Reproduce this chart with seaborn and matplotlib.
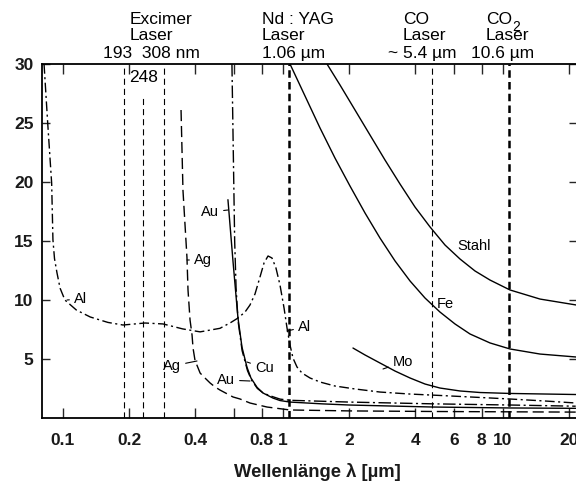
import numpy as np
import pandas as pd
import matplotlib
matplotlib.use("Agg")
import matplotlib.pyplot as plt
from matplotlib.ticker import FixedLocator, NullLocator, FixedFormatter
import seaborn as sns

# ---------------- data ----------------
al_lam = [0.082, 0.0852, 0.0888, 0.0900, 0.0915, 0.0939, 0.097, 0.102, 0.115, 0.133, 0.16, 0.1875,
          0.236, 0.285, 0.35, 0.42, 0.517, 0.58, 0.624, 0.672, 0.708, 0.746, 0.786, 0.820, 0.855,
          0.891, 0.929, 0.969, 1.011, 1.043, 1.076, 1.110, 1.158, 1.220, 1.327, 1.473, 1.723,
          2.125, 2.760, 3.779, 5.172, 7.862, 10.76, 15.53, 21.47]
al_val = [30.0, 25.0, 19.9, 15.1, 13.5, 12.3, 11.0, 10.0, 9.15, 8.56, 8.1, 7.88,
          8.05, 7.97, 7.55, 7.3, 7.6, 8.1, 8.47, 8.98, 9.58, 10.51, 11.95, 13.14, 13.73,
          13.56, 12.71, 11.27, 9.32, 7.63, 6.19, 5.08, 4.32, 3.81, 3.39, 3.05, 2.71,
          2.46, 2.20, 2.03, 1.91, 1.74, 1.61, 1.44, 1.27]

ag_lam = [0.344, 0.351, 0.366, 0.370, 0.378, 0.386, 0.390, 0.398, 0.406, 0.42, 0.4375, 0.466,
          0.491, 0.517, 0.593, 0.638, 0.708, 0.846, 1.076, 2.02, 5.0, 21.4]
ag_val = [26.1, 19.3, 13.6, 10.85, 8.3, 7.03, 5.93, 4.9, 4.49, 3.81, 3.47, 2.97,
          2.63, 2.37, 1.78, 1.61, 1.27, 0.93, 0.68, 0.6, 0.55, 0.5]

au_lam = [0.562, 0.593, 0.624, 0.651, 0.686, 0.715, 0.762, 0.811, 0.90, 0.969, 1.076, 1.5,
          2.0, 4.8, 10.8, 21.4]
au_val = [18.5, 13.2, 8.5, 6.0, 4.3, 3.39, 2.6, 2.12, 1.69, 1.48, 1.35, 1.2,
          1.1, 0.93, 0.85, 0.82]

cu_lam = [0.586, 0.595, 0.603, 0.612, 0.625, 0.652, 0.69, 0.72, 0.765, 0.815, 0.9, 0.97,
          1.076, 1.5, 2.0, 4.8, 10.8, 21.4]
cu_val = [30.0, 22.0, 15.0, 11.0, 8.2, 5.7, 4.0, 3.2, 2.5, 2.1, 1.8, 1.6,
          1.5, 1.42, 1.35, 1.2, 1.1, 1.0]

mo_lam = [2.08, 2.36, 2.76, 3.23, 3.78, 4.42, 5.17, 6.38, 7.86, 10.76, 21.47]
mo_val = [5.93, 5.34, 4.66, 3.98, 3.39, 2.88, 2.54, 2.29, 2.16, 2.08, 1.99]

fe_lam = [1.076, 1.259, 1.473, 1.723, 2.016, 2.36, 2.76, 3.23, 3.78, 4.42, 5.17, 6.05,
          7.08, 8.73, 10.76, 14.73, 21.47]
fe_val = [30.0, 27.29, 24.58, 22.03, 19.66, 17.37, 15.25, 13.31, 11.61, 10.17, 8.98, 7.97,
          7.12, 6.36, 5.85, 5.42, 5.17]

st_lam = [1.585, 1.816, 2.125, 2.486, 2.909, 3.403, 3.981, 4.66, 5.45, 6.38, 7.46, 8.73,
          10.76, 14.73, 21.47]
st_val = [30.0, 28.22, 26.10, 23.98, 21.86, 19.83, 17.88, 16.19, 14.66, 13.47, 12.46, 11.69,
          10.85, 10.08, 9.58]

laser_lam = [0.19, 0.232, 0.287, 1.06, 4.75, 10.7]
laser_thick = [False, False, False, True, False, True]
laser_top = [30, 27.3, 30, 30, 30, 30]

xtick_vals = [0.1, 0.2, 0.4, 0.6, 0.8, 1, 2, 4, 6, 8, 10, 20]
xtick_labels = ["0.1", "0.2", "0.4", "", "0.8", "1", "2", "4", "6", "8", "10", "20"]
ytick_vals = [5, 10, 15, 20, 25, 30]

# ---------------- style ----------------
sns.set_theme(style="ticks")
plt.rcParams['font.family'] = ['Liberation Sans', 'DejaVu Sans']

W, H = 576, 490
fig = plt.figure(figsize=(W / 100, H / 100), dpi=100)
fig.patch.set_facecolor("white")

PX1, DEC, PY0, PYU = 283.0, 220.0, 418.0, 11.8   # pixel mapping used for label placement
L, R, T, B = 42, 577, 64, 418
ax = fig.add_axes([L / W, 1 - B / H, (R - L) / W, (B - T) / H])
ax.set_facecolor("white")
ax.set_xscale("log")
ax.set_xlim(10 ** ((L - PX1) / DEC), 10 ** ((R - PX1) / DEC))
ax.set_ylim(0, 30)


def d(px, py):
    return 10 ** ((px - PX1) / DEC), (PY0 - py) / PYU


K = "black"
dashdot = (0, (7, 2.5, 1.5, 2.5))
longdash = (0, (8, 3.5))


def curve(xs, ys, ls="-", lw=1.0):
    df = pd.DataFrame({"lam": xs, "val": ys})
    sns.lineplot(data=df, x="lam", y="val", ax=ax, color=K, linewidth=lw,
                 linestyle=ls, estimator=None, sort=False, legend=False)


# laser lines
for lam, thick, top in zip(laser_lam, laser_thick, laser_top):
    if thick:
        ax.axvline(lam, ymin=0, ymax=top / 30, color=K, lw=1.8, linestyle=(0, (3, 1.7)))
    else:
        ax.axvline(lam, ymin=0, ymax=top / 30, color=K, lw=0.8, linestyle=(0, (5.5, 3.6)))

curve(al_lam, al_val, dashdot)
curve(ag_lam, ag_val, longdash)
curve(au_lam, au_val, "-")
curve(cu_lam, cu_val, (0, (9, 2.5, 1.5, 2.5)))
curve(mo_lam, mo_val, "-")
curve(fe_lam, fe_val, "-")
curve(st_lam, st_val, "-")

ax.set_xlabel("")
ax.set_ylabel("")

# ticks
ax.xaxis.set_major_locator(FixedLocator(xtick_vals))
ax.xaxis.set_major_formatter(FixedFormatter(xtick_labels))
ax.xaxis.set_minor_locator(NullLocator())
ax.yaxis.set_major_locator(FixedLocator(ytick_vals))
ax.yaxis.set_minor_locator(NullLocator())
ax.tick_params(axis="x", which="major", direction="in", length=7, width=1.0,
               top=True, bottom=True, labelsize=12.5, pad=11)
ax.tick_params(axis="y", which="major", direction="in", length=6, width=1.0,
               left=True, right=True, labelsize=12.5, pad=6)
for lab in ax.get_xticklabels() + ax.get_yticklabels():
    lab.set_fontweight("bold")
    lab.set_color("#1a1a1a")
for s in ax.spines.values():
    s.set_linewidth(1.3)
    s.set_color(K)

# curve labels
FS = 10.5
def lab(text, tx, ty, ha="left", lead=None):
    x, y = d(tx, ty)
    if lead is None:
        ax.text(x, y, text, ha=ha, va="center", fontsize=FS, color=K)
    else:
        ax.annotate(text, xy=d(*lead), xytext=(x, y), ha=ha, va="center", fontsize=FS,
                    color=K, arrowprops=dict(arrowstyle="-", lw=0.8, color=K,
                                             shrinkA=1, shrinkB=0))

lab("Al", 74, 299, "left", (67, 300))
lab("Ag", 194, 260, "left", (187, 260))
lab("Ag", 181, 366, "right", (197, 361))
lab("Au", 219, 212, "right", (228, 210))
lab("Au", 235, 380, "right", (250, 381))
lab("Cu", 255, 368, "left", (247, 362))
lab("Al", 298, 327, "left", (287, 331))
lab("Mo", 393, 362, "left", (383, 369))
lab("Fe", 437, 304, "left")
lab("Stahl", 457, 246, "left")
x248, y248 = d(129, 77)
ax.text(x248, y248, "248", ha="left", va="center", fontsize=12.5, color=K)

# top labels (figure pixel positions)
def ftxt(text, px, py, size=12.5, ha="left", **kw):
    fig.text(px / W, 1 - py / H, text, ha=ha, va="baseline", fontsize=size, color=K, **kw)

ftxt("Excimer", 130, 24)
ftxt("Laser", 130, 40.5)
ftxt("193  308 nm", 103, 58)
ftxt("Nd : YAG", 262, 24)
ftxt("Laser", 262, 40.5)
ftxt("1.06 µm", 262, 58)
ftxt("CO", 403, 24)
ftxt("Laser", 403, 40.5)
ftxt("~ 5.4 µm", 388, 58)
ftxt("CO", 486, 24)
ftxt("2", 512, 31, size=10)
ftxt("Laser", 486, 40.5)
ftxt("10.6 µm", 471, 58)

# x axis title
fig.text(317 / W, 1 - 477 / H, "Wellenlänge λ [µm]", ha="center", va="baseline",
         fontsize=13.3, fontweight="bold", color="#1a1a1a")

fig.savefig("out.png", dpi=100, facecolor="white")
